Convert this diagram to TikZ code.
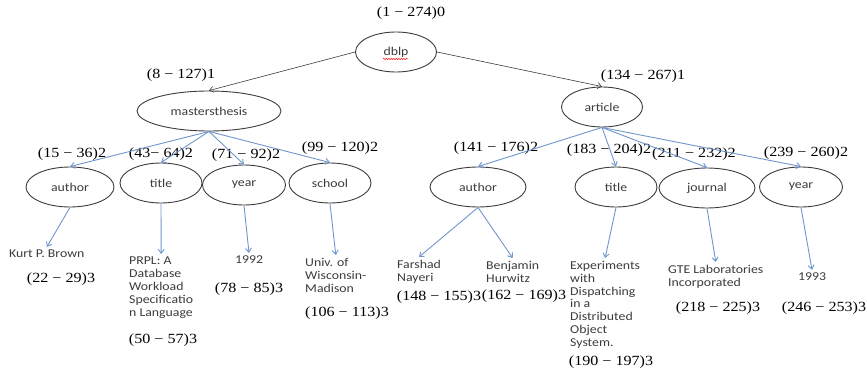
\documentclass[tikz,border=0pt]{standalone}
\usepackage{fontspec}
\newfontfamily\tagfont[FakeStretch=1.15]{Carlito}
\newfontfamily\rngfont[FakeStretch=1.15]{Liberation Serif}
\usetikzlibrary{shapes.geometric}
\usetikzlibrary{arrows.meta}
\usetikzlibrary{decorations.pathmorphing}
\definecolor{edgeblue}{RGB}{110,150,205}
\definecolor{inkgray}{RGB}{60,60,60}

\begin{document}
\begin{tikzpicture}[x=1pt,y=-1pt,
    tag/.style={ellipse,draw=inkgray,line width=0.9pt,minimum height=40pt,inner sep=0pt,text=inkgray,font=\tagfont\fontsize{12}{12.8}\selectfont},
    leaf/.style={anchor=north west,align=left,inner sep=3pt,text=inkgray,font=\tagfont\fontsize{12}{12.8}\selectfont},
    rng/.style={inner sep=0pt,font=\rngfont\fontsize{14}{16}\selectfont},
    blk/.style={-{Straight Barb[length=4pt,width=6pt]},draw=inkgray,line width=0.6pt},
    blu/.style={-{Straight Barb[length=4pt,width=6pt]},draw=edgeblue,line width=0.9pt}]
  \useasboundingbox (0,0) rectangle (867,369);

  \node[tag,minimum width=81pt] (dblp) at (396,52) {dblp};
  \node[tag,minimum width=144pt] (mt) at (209,111) {mastersthesis};
  \node[tag,minimum width=81pt] (art) at (602,107) {article};

  \node[tag,minimum width=88pt] (mauthor) at (70,187) {author};
  \node[tag,minimum width=82pt] (mtitle) at (161,183) {title};
  \node[tag,minimum width=83pt] (myear) at (244,185) {year};
  \node[tag,minimum width=82pt] (school) at (330,183) {school};
  \node[tag,minimum width=96pt] (aauthor) at (478,187) {author};
  \node[tag,minimum width=82pt] (atitle) at (616,187) {title};
  \node[tag,minimum width=96pt] (journal) at (707,188) {journal};
  \node[tag,minimum width=83pt] (ayear) at (801,187) {year};

  \node[leaf] (kurt) at (6,247) {Kurt P. Brown};
  \node[leaf] (prpl) at (126,254) {PRPL: A\\Database\\Workload\\Specificatio\\n Language};
  \node[leaf,anchor=center] (y1992) at (249,260) {1992};
  \node[leaf] (univ) at (302,255) {Univ. of\\Wisconsin-\\Madison};
  \node[leaf] (farshad) at (394,257) {Farshad\\Nayeri};
  \node[leaf] (benjamin) at (483,258) {Benjamin\\Hurwitz};
  \node[leaf] (exper) at (567,258) {Experiments\\with\\Dispatching\\in a\\Distributed\\Object\\System.};
  \node[leaf] (gte) at (665,262) {GTE Laboratories\\Incorporated};
  \node[leaf,anchor=center] (y1993) at (812,277) {1993};

  \node[rng] (r0) at (411,13) {(1 − 274)0};
  \node[rng] (r1a) at (181,75) {(8 − 127)1};
  \node[rng] (r1b) at (643,76) {(134 − 267)1};
  \node[rng] (r2a) at (72,154) {(15 − 36)2};
  \node[rng] (r2b) at (161,154) {(43− 64)2};
  \node[rng] (r2c) at (246,155) {(71 − 92)2};
  \node[rng] (r2d) at (340,148) {(99 − 120)2};
  \node[rng] (r2e) at (496,148) {(141 − 176)2};
  \node[rng] (r2f) at (609,150) {(183 − 204)2};
  \node[rng] (r2g) at (694,154) {(211 − 232)2};
  \node[rng] (r2h) at (806,153) {(239 − 260)2};
  \node[rng] (r3a) at (61,279) {(22 − 29)3};
  \node[rng] (r3b) at (163,340) {(50 − 57)3};
  \node[rng] (r3c) at (249,289) {(78 − 85)3};
  \node[rng] (r3d) at (347,313) {(106 − 113)3};
  \node[rng] (r3e) at (439,297) {(148 − 155)3};
  \node[rng] (r3f) at (524,296) {(162 − 169)3};
  \node[rng] (r3g) at (611,362) {(190 − 197)3};
  \node[rng] (r3h) at (718,308) {(218 − 225)3};
  \node[rng] (r3i) at (824,308) {(246 − 253)3};

  \draw[red,line width=0.5pt,decorate,decoration={snake,amplitude=0.6pt,segment length=2.5pt}]
    ([xshift=-13pt,yshift=-7pt]dblp.center) -- ([xshift=12pt,yshift=-7pt]dblp.center);

  \draw[blk] (dblp.west) -- (mt.north);
  \draw[blk] (dblp.east) -- (art.north);

  \foreach \c in {mauthor,mtitle,myear,school}
    \draw[blu] (mt.south) -- (\c.north);
  \foreach \c in {aauthor,atitle,journal,ayear}
    \draw[blu] (art.south) -- (\c.north);

  \draw[blu] (mauthor.south) -- (kurt.north);
  \draw[blu] (mtitle.south) -- (prpl.north);
  \draw[blu] (myear.south) -- (y1992.north);
  \draw[blu] (school.south) -- (univ.north);
  \draw[blu] (aauthor.south) -- (farshad.north);
  \draw[blu] (aauthor.south) -- (benjamin.north);
  \draw[blu] (atitle.south) -- (exper.north);
  \draw[blu] (journal.south) -- (gte.north);
  \draw[blu] (ayear.south) -- (y1993.north);
\end{tikzpicture}
\end{document}
